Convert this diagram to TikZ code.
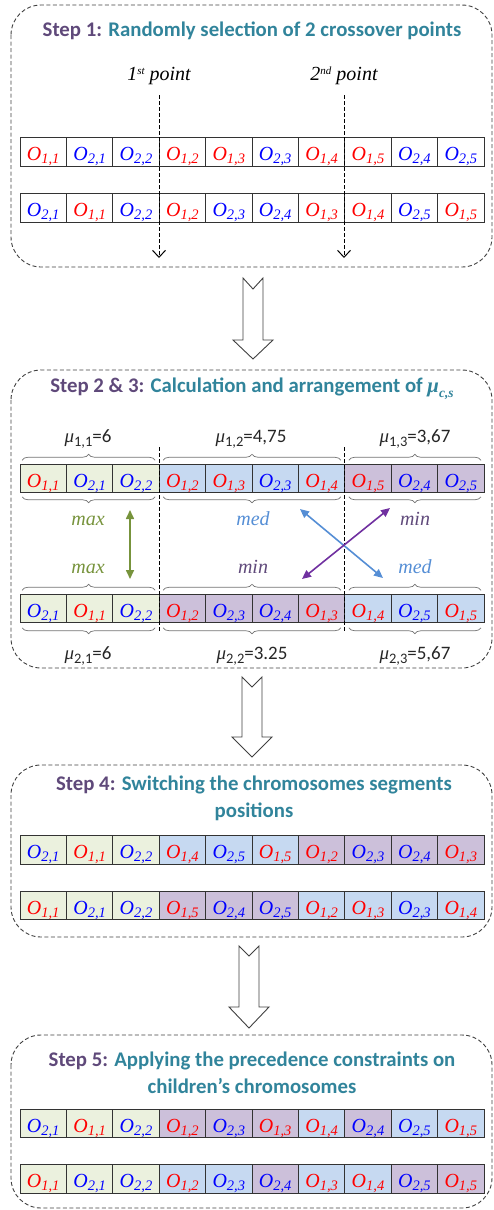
\documentclass[tikz,border=0pt]{standalone}
\usepackage{fontspec}
\setmainfont{Carlito}
\newfontfamily\tnr{Liberation Serif}
\usetikzlibrary{decorations.pathreplacing,arrows.meta}
\definecolor{stepcol}{HTML}{5F497A}
\definecolor{titlecol}{HTML}{31849B}
\definecolor{cgreen}{HTML}{EBF1DE}
\definecolor{cblue}{HTML}{C6D9F1}
\definecolor{cpurple}{HTML}{CCC0DA}
\definecolor{agreen}{HTML}{77933C}
\definecolor{ablue}{HTML}{558ED5}
\definecolor{apurple}{HTML}{7030A0}
\definecolor{tmin}{HTML}{604A7B}
\definecolor{boxline}{HTML}{404040}
\definecolor{opred}{HTML}{FF0000}
\definecolor{opblue}{HTML}{0000FF}
\definecolor{mucol}{HTML}{262626}
\newcommand\op[2]{{\ifnum#1=1 \color{opred}\else\color{opblue}\fi\tnr\itshape\fontsize{20}{20}\selectfont O\raisebox{-3pt}{\fontsize{14.5}{14.5}\selectfont #1,#2}}}
\newcommand\mulab[3]{{\tnr\itshape μ}\raisebox{-4pt}{\fontsize{14.5}{14.5}\selectfont #1,#2}=#3}
\newcommand\chrom[3]{%
  \foreach \f/\a/\b [count=\i] in {#3} {
    \node[cell, fill=\f] (#1-\i) at ({20+(\i-0.5)*46.4}, #2) {\op{\a}{\b}};
  }}
\begin{document}
\begin{tikzpicture}[x=1pt,y=-1pt,
  stepbox/.style={draw=boxline, dash pattern=on 4pt off 2.5pt, line width=0.9pt, rounded corners=30pt},
  title/.style={align=center, inner sep=0pt, font=\bfseries\fontsize{20.8}{27.5}\selectfont, text=titlecol},
  cell/.style={draw=black!80, line width=0.8pt, minimum width=46.4pt, minimum height=28.5pt, inner sep=0pt, outer sep=0pt, text height=18pt, text depth=0.8pt},
  lbl/.style={font=\tnr\itshape\fontsize{20}{20}\selectfont, anchor=base, inner sep=0pt},
  mu/.style={font=\fontsize{19}{19}\selectfont, text=mucol, anchor=base, inner sep=0pt},
  brc/.style={decorate, decoration={brace, amplitude=6pt}, draw=black!55, line width=0.7pt},
  brcm/.style={decorate, decoration={brace, amplitude=6pt, mirror}, draw=black!55, line width=0.7pt},
  vdash/.style={draw=black, dash pattern=on 3.5pt off 2.5pt, line width=0.8pt},
  barb/.style={-{Straight Barb[length=7pt,width=13pt,line width=1pt]}},
  dbl/.style={line width=1.6pt, {Triangle[length=9pt,width=8pt]}-{Triangle[length=9pt,width=8pt]}},
  blockarrow/.style={draw=boxline, fill=white, line width=0.9pt, line join=miter}
]
\useasboundingbox (0,0) rectangle (493,1210);

% ---------- Step 1 ----------
\draw[stepbox] (11,5) rectangle (492,267);
\node[title, anchor=base] (t1) at (252,36) {{\color{stepcol}Step 1:} Randomly selection of 2 crossover points};
\node[lbl] (pt1) at (159,80) {1\raisebox{6pt}{\fontsize{11}{11}\selectfont st} point};
\node[lbl] (pt2) at (344,80) {2\raisebox{6pt}{\fontsize{11}{11}\selectfont nd} point};
\chrom{a}{152}{white/1/1,white/2/1,white/2/2,white/1/2,white/1/3,white/2/3,white/1/4,white/1/5,white/2/4,white/2/5}
\chrom{b}{208}{white/2/1,white/1/1,white/2/2,white/1/2,white/2/3,white/2/4,white/1/3,white/1/4,white/2/5,white/1/5}
\coordinate (p1s) at (159,95);
\coordinate (p1e) at (159,258);
\coordinate (p2s) at (344,95);
\coordinate (p2e) at (344,258);
\draw[vdash, barb] (p1s) -- (p1e);
\draw[vdash, barb] (p2s) -- (p2e);

% block arrow 1
\draw[blockarrow] (243,278) -- (253,289) -- (263,278) -- (263,340) -- (273,340) -- (253,359) -- (233,340) -- (243,340) -- cycle;

% ---------- Step 2 & 3 ----------
\draw[stepbox] (11,370) rectangle (492,668);
\node[title, anchor=base] (t2) at (252,392) {{\color{stepcol}Step 2 \& 3:} Calculation and arrangement of {\tnr\bfseries\itshape μ}\raisebox{-5pt}{\tnr\bfseries\itshape\fontsize{13.5}{13.5}\selectfont c,s}};
\node[mu] (m11) at (88,442) {\mulab{1}{1}{6}};
\node[mu] (m12) at (251,442) {\mulab{1}{2}{4,75}};
\node[mu] (m13) at (415,442) {\mulab{1}{3}{3,67}};
\chrom{c}{478.5}{cgreen/1/1,cgreen/2/1,cgreen/2/2,cblue/1/2,cblue/1/3,cblue/2/3,cblue/1/4,cpurple/1/5,cpurple/2/4,cpurple/2/5}
\chrom{d}{608.5}{cgreen/2/1,cgreen/1/1,cgreen/2/2,cpurple/1/2,cpurple/2/3,cpurple/2/4,cpurple/1/3,cblue/1/4,cblue/2/5,cblue/1/5}
\node[mu] (m21) at (88,659) {\mulab{2}{1}{6}};
\node[mu] (m22) at (252,659) {\mulab{2}{2}{3.25}};
\node[mu] (m23) at (415,659) {\mulab{2}{3}{5,67}};
% braces
\draw[brc] ([xshift=2pt,yshift=4pt]c-1.north west) -- ([xshift=-4pt,yshift=4pt]c-3.north east);
\draw[brc] ([xshift=4pt,yshift=4pt]c-4.north west) -- ([xshift=-4pt,yshift=4pt]c-7.north east);
\draw[brc] ([xshift=4pt,yshift=4pt]c-8.north west) -- ([xshift=-3pt,yshift=4pt]c-10.north east);
\draw[brcm] ([xshift=2pt,yshift=-4pt]c-1.south west) -- ([xshift=-4pt,yshift=-4pt]c-3.south east);
\draw[brcm] ([xshift=4pt,yshift=-4pt]c-4.south west) -- ([xshift=-4pt,yshift=-4pt]c-7.south east);
\draw[brcm] ([xshift=4pt,yshift=-4pt]c-8.south west) -- ([xshift=-3pt,yshift=-4pt]c-10.south east);
\draw[brc] ([xshift=2pt,yshift=4pt]d-1.north west) -- ([xshift=-4pt,yshift=4pt]d-3.north east);
\draw[brc] ([xshift=4pt,yshift=4pt]d-4.north west) -- ([xshift=-4pt,yshift=4pt]d-7.north east);
\draw[brc] ([xshift=4pt,yshift=4pt]d-8.north west) -- ([xshift=-3pt,yshift=4pt]d-10.north east);
\draw[brcm] ([xshift=2pt,yshift=-5pt]d-1.south west) -- ([xshift=-4pt,yshift=-5pt]d-3.south east);
\draw[brcm] ([xshift=4pt,yshift=-5pt]d-4.south west) -- ([xshift=-4pt,yshift=-5pt]d-7.south east);
\draw[brcm] ([xshift=4pt,yshift=-5pt]d-8.south west) -- ([xshift=-3pt,yshift=-5pt]d-10.south east);
% segment separators
\draw[vdash] ([yshift=17pt]c-3.north east) -- ([yshift=-10pt]d-3.south east);
\draw[vdash] ([yshift=17pt]c-7.north east) -- ([yshift=-10pt]d-7.south east);
% rank labels
\node[lbl, text=agreen] (x1) at (88,525) {max};
\node[lbl, text=ablue] (x2) at (253,525) {med};
\node[lbl, text=tmin] (x3) at (415,525) {min};
\node[lbl, text=agreen] (y1) at (88,573) {max};
\node[lbl, text=tmin] (y2) at (253,573) {min};
\node[lbl, text=ablue] (y3) at (415,573) {med};
% swap arrows
\coordinate (ga) at (130,510);
\coordinate (gb) at (130,579);
\coordinate (ba) at (300,509);
\coordinate (bb) at (383,578);
\coordinate (pa) at (390,508);
\coordinate (pb) at (302,579);
\draw[dbl, agreen] (ga) -- (gb);
\draw[dbl, ablue] (ba) -- (bb);
\draw[dbl, apurple] (pa) -- (pb);

% block arrow 2
\draw[blockarrow] (242,677) -- (252,687) -- (262,677) -- (262,737) -- (272,737) -- (252,757) -- (232,737) -- (242,737) -- cycle;

% ---------- Step 4 ----------
\draw[stepbox] (11,765) rectangle (492,937);
\node[title] (t4) at (254,798.5) {{\color{stepcol}Step 4:} Switching the chromosomes segments\\positions};
\chrom{e}{850}{cgreen/2/1,cgreen/1/1,cgreen/2/2,cblue/1/4,cblue/2/5,cblue/1/5,cpurple/1/2,cpurple/2/3,cpurple/2/4,cpurple/1/3}
\chrom{f}{905.5}{cgreen/1/1,cgreen/2/1,cgreen/2/2,cpurple/1/5,cpurple/2/4,cpurple/2/5,cblue/1/2,cblue/1/3,cblue/2/3,cblue/1/4}

% block arrow 3
\draw[blockarrow] (239,946) -- (249,956) -- (259,946) -- (259,1007) -- (269,1007) -- (249,1028) -- (229,1007) -- (239,1007) -- cycle;

% ---------- Step 5 ----------
\draw[stepbox] (11,1035) rectangle (492,1208);
\node[title] (t5) at (252,1073) {{\color{stepcol}Step 5:} Applying the precedence constraints on\\children’s chromosomes};
\chrom{g}{1123.5}{cgreen/2/1,cgreen/1/1,cgreen/2/2,cpurple/1/2,cpurple/2/3,cpurple/1/3,cblue/1/4,cpurple/2/4,cblue/2/5,cblue/1/5}
\chrom{h}{1179}{cgreen/1/1,cgreen/2/1,cgreen/2/2,cblue/1/2,cblue/2/3,cpurple/2/4,cblue/1/3,cblue/1/4,cpurple/2/5,cpurple/1/5}
\end{tikzpicture}
\end{document}
